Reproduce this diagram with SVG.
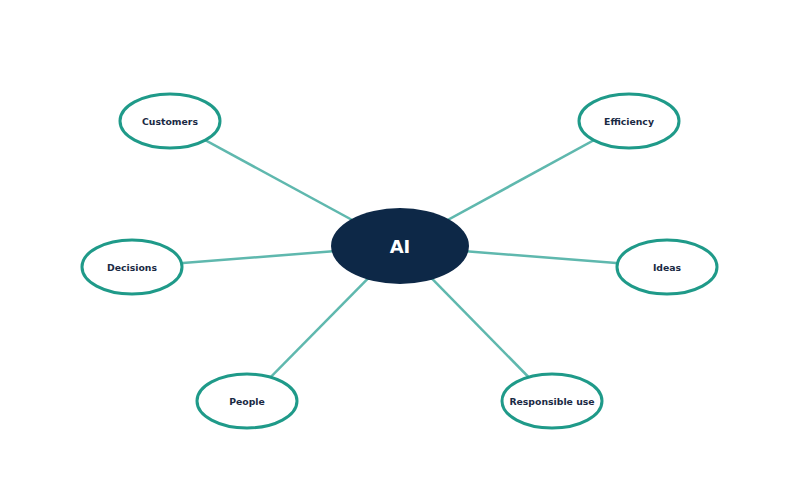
<svg xmlns="http://www.w3.org/2000/svg" width="800" height="500" viewBox="0 0 800 500">
<style>
.edge{stroke:#5fb8ae;stroke-width:2.5;fill:none}
.sat ellipse{fill:#ffffff;stroke:#1f9a89;stroke-width:3}
.sat text{font-family:"DejaVu Sans",sans-serif;font-weight:bold;font-size:9.3px;fill:#1a2a44;text-anchor:middle;dominant-baseline:central}
</style>
<rect width="800" height="500" fill="#ffffff"/>
<g id="connectors">
<line class="edge" x1="400" y1="246" x2="170" y2="121"/>
<line class="edge" x1="400" y1="246" x2="629" y2="121"/>
<line class="edge" x1="400" y1="246" x2="132" y2="267"/>
<line class="edge" x1="400" y1="246" x2="667" y2="267"/>
<line class="edge" x1="400" y1="246" x2="247" y2="401"/>
<line class="edge" x1="400" y1="246" x2="552" y2="401"/>
</g>
<g id="ai">
<ellipse cx="400" cy="246" rx="69" ry="38" fill="#0d2847"/>
<text x="400" y="246" font-family="DejaVu Sans, sans-serif" font-weight="bold" font-size="18" fill="#ffffff" text-anchor="middle" dominant-baseline="central">AI</text>
</g>
<g id="customers" class="sat"><ellipse cx="170" cy="121" rx="50" ry="27"/><text x="170" y="121">Customers</text></g>
<g id="efficiency" class="sat"><ellipse cx="629" cy="121" rx="50" ry="27"/><text x="629" y="121">Efficiency</text></g>
<g id="decisions" class="sat"><ellipse cx="132" cy="267" rx="50" ry="27"/><text x="132" y="267">Decisions</text></g>
<g id="ideas" class="sat"><ellipse cx="667" cy="267" rx="50" ry="27"/><text x="667" y="267">Ideas</text></g>
<g id="people" class="sat"><ellipse cx="247" cy="401" rx="50" ry="27"/><text x="247" y="401">People</text></g>
<g id="responsible-use" class="sat"><ellipse cx="552" cy="401" rx="50" ry="27"/><text x="552" y="401">Responsible use</text></g>
</svg>
